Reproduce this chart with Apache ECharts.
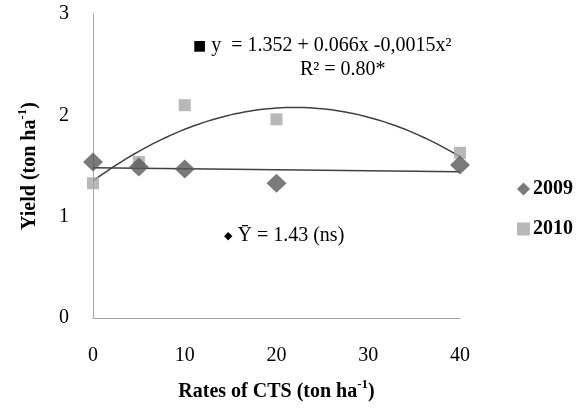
<!DOCTYPE html>
<html>
<head>
<meta charset="utf-8">
<script src="https://cdn.jsdelivr.net/npm/echarts@6/dist/echarts.min.js"></script>
<style>html,body{margin:0;padding:0;background:#fff;}#c{width:582px;height:409px;}</style>
</head>
<body>
<div id="c"></div>
<script>
var rates = [0, 5, 10, 20, 40];
var yield2009 = [1.54, 1.49, 1.47, 1.33, 1.51];
var yield2010 = [1.33, 1.54, 2.10, 1.96, 1.63];
var trend2010Coef = [1.352, 0.066, -0.0015];
var xTicks = [0, 10, 20, 30, 40];
var yTicks = [0, 1, 2, 3];

var FONT = "'Liberation Serif','Times New Roman',serif";

function pairs(xs, ys) { return xs.map(function (x, i) { return [x, ys[i]]; }); }

// linear least-squares trend for 2009
function linFit(xs, ys) {
  var n = xs.length, mx = 0, my = 0;
  for (var i = 0; i < n; i++) { mx += xs[i]; my += ys[i]; }
  mx /= n; my /= n;
  var sxx = 0, sxy = 0;
  for (var j = 0; j < n; j++) { sxx += (xs[j] - mx) * (xs[j] - mx); sxy += (xs[j] - mx) * (ys[j] - my); }
  var b = sxy / sxx;
  return [my - b * mx, b];
}
var lin2009 = linFit(rates, yield2009);
var xMin = rates[0], xMax = rates[rates.length - 1];
var trend2009 = [[xMin, lin2009[0] + lin2009[1] * xMin], [xMax, lin2009[0] + lin2009[1] * xMax]];
var trend2010 = [];
for (var x = xMin; x <= xMax; x += 0.5) {
  trend2010.push([x, trend2010Coef[0] + trend2010Coef[1] * x + trend2010Coef[2] * x * x]);
}

var chart = echarts.init(document.getElementById('c'));
chart.setOption({
  animation: false,
  backgroundColor: '#fff',
  textStyle: { fontFamily: FONT },
  grid: { left: 93, right: 122, top: 14, bottom: 91 },
  xAxis: {
    type: 'value', min: xTicks[0], max: xTicks[xTicks.length - 1], interval: 10,
    axisLine: { show: true, lineStyle: { color: '#a6a6a6', width: 1 } },
    axisTick: { show: false },
    splitLine: { show: false },
    axisLabel: { fontFamily: FONT, fontSize: 20, color: '#000', margin: 28 },
    name: '{n|Rates of CTS (ton ha}{s|-1}{n|)}',
    nameLocation: 'middle', nameGap: 60,
    nameTextStyle: {
      rich: {
        n: { fontFamily: FONT, fontSize: 20, fontWeight: 'bold', color: '#000', lineHeight: 24, verticalAlign: 'bottom' },
        s: { fontFamily: FONT, fontSize: 13, fontWeight: 'bold', color: '#000', lineHeight: 24, verticalAlign: 'top' }
      }
    }
  },
  yAxis: {
    type: 'value', min: yTicks[0], max: yTicks[yTicks.length - 1], interval: 1,
    axisLine: { show: true, lineStyle: { color: '#a6a6a6', width: 1 } },
    axisTick: { show: false },
    splitLine: { show: false },
    axisLabel: { fontFamily: FONT, fontSize: 20, color: '#000', margin: 24 },
    name: '{n|Yield (ton ha}{s|-1}{n|)}',
    nameLocation: 'middle', nameRotate: 90, nameGap: 53,
    nameTextStyle: {
      rich: {
        n: { fontFamily: FONT, fontSize: 20, fontWeight: 'bold', color: '#000', lineHeight: 24, verticalAlign: 'bottom' },
        s: { fontFamily: FONT, fontSize: 13, fontWeight: 'bold', color: '#000', lineHeight: 24, verticalAlign: 'top' }
      }
    }
  },
  legend: {
    orient: 'vertical', left: 512, top: 174, itemGap: 20,
    itemWidth: 13, itemHeight: 13,
    data: ['2009', '2010'],
    textStyle: { fontFamily: FONT, fontSize: 20, fontWeight: 'bold', color: '#000', padding: [0, 0, 0, -2] }
  },
  series: [
    {
      name: 'trend2009', type: 'line', data: trend2009, showSymbol: false, silent: true,
      lineStyle: { color: '#3f3f3f', width: 1.5 }, z: 1
    },
    {
      name: 'trend2010', type: 'line', data: trend2010, showSymbol: false, silent: true, smooth: false,
      lineStyle: { color: '#3f3f3f', width: 1.5 }, z: 1
    },
    {
      name: '2010', type: 'scatter', data: pairs(rates, yield2010),
      symbol: 'rect', symbolSize: 12, itemStyle: { color: '#a6a6a6' }, z: 2
    },
    {
      name: '2009', type: 'scatter', data: pairs(rates, yield2009),
      symbol: 'diamond', symbolSize: [20, 19], itemStyle: { color: '#595959' }, z: 3
    }
  ],
  graphic: [
    {
      type: 'text', left: 193, top: 36,
      style: { text: '{m|■} y  = 1.352 + 0.066x -0,0015x²', fontFamily: FONT, fontSize: 20, fill: '#000',
        rich: { m: { fontFamily: 'DejaVu Sans', fontSize: 14, fill: '#000' } } }
    },
    {
      type: 'text', left: 300, top: 60,
      style: { text: 'R² = 0.80*', fontFamily: FONT, fontSize: 20, fill: '#000' }
    },
    {
      type: 'text', left: 224, top: 226,
      style: { text: '{m|◆} Ȳ = 1.43 (ns)', fontFamily: FONT, fontSize: 20, fill: '#000',
        rich: { m: { fontFamily: 'DejaVu Sans', fontSize: 11, fill: '#000' } } }
    }
  ]
});
</script>
</body>
</html>
